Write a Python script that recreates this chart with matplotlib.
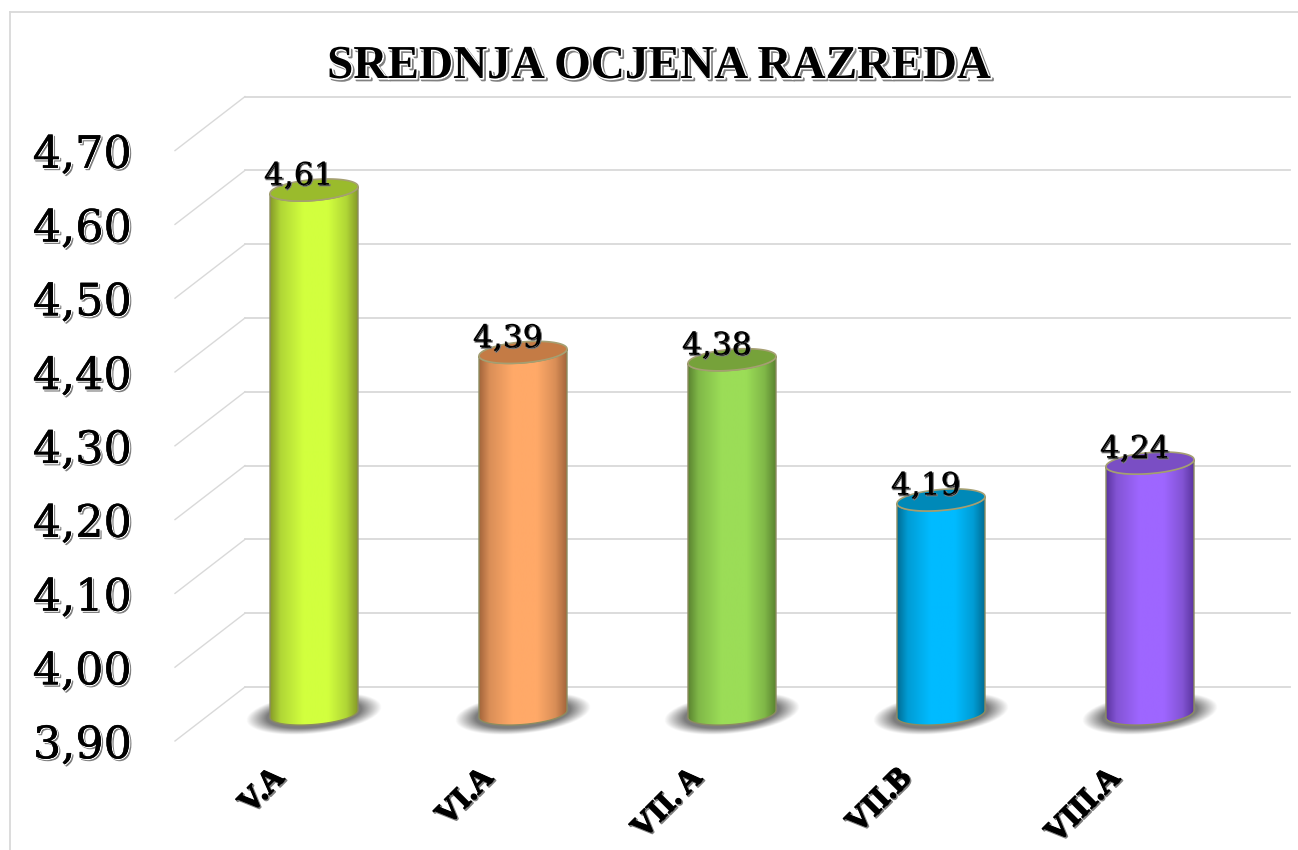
import numpy as np
import matplotlib
matplotlib.use("Agg")
import matplotlib.pyplot as plt
from matplotlib.lines import Line2D
from matplotlib.patches import PathPatch
from matplotlib.path import Path
from matplotlib.colors import LinearSegmentedColormap
from matplotlib.transforms import ScaledTranslation
import matplotlib.patheffects as pe

title = "SREDNJA OCJENA RAZREDA"
categories = ["V.A", "VI.A", "VII. A", "VII.B", "VIII.A"]
values = [4.61, 4.39, 4.38, 4.19, 4.24]
value_labels = ["4,61", "4,39", "4,38", "4,19", "4,24"]
yticks = [3.9, 4.0, 4.1, 4.2, 4.3, 4.4, 4.5, 4.6, 4.7]
ytick_labels = ["3,90", "4,00", "4,10", "4,20", "4,30", "4,40", "4,50", "4,60", "4,70"]
bright = ["#D2FF3E", "#FFA968", "#9BDD57", "#00BBFF", "#9E66FF"]
mid = ["#B0D636", "#D98E57", "#80B848", "#009CD4", "#8354D4"]
dark = ["#869A29", "#A3653B", "#5A8430", "#006D94", "#5B35A0"]
tops = ["#9ABB2C", "#C47B45", "#76A23A", "#0089B8", "#7A4EC4"]

W, H = 1298, 850
GRID = "#D9D9D9"
SERIF = "Liberation Serif"
NUM_SERIF = "DejaVu Serif"

fig = plt.figure(figsize=(W / 100, H / 100), dpi=100, facecolor="white")

PX_PER_CAT = 209.0
PX_PER_UNIT = 738.0
LEFT_PX, RIGHT_PX = 175, 1290
TOP_PX, BOT_PX = 97, 741
Y0_PX = 714
CAT0_PX = 314


def axes_rect(left, right, top, bottom):
    return [left / W, 1 - bottom / H, (right - left) / W, (bottom - top) / H]


# front plane: carries the value-axis tick labels
front = fig.add_axes(axes_rect(LEFT_PX, RIGHT_PX, 150.6, 741), zorder=1)
front.patch.set_visible(False)
front.set_ylim(3.9, 4.7)
front.set_yticks(yticks)
outline = [pe.Stroke(offset=(1.3, -1.3), linewidth=1.0, foreground="#808080"),
           pe.Stroke(offset=(0.5, -0.5), linewidth=1.0, foreground="white"),
           pe.Stroke(linewidth=0.3, foreground="black"), pe.Normal()]
front.set_yticklabels(ytick_labels, fontsize=32, family=NUM_SERIF, color="black", path_effects=outline)
front.tick_params(axis="y", length=0, pad=31)
front.set_xticks([])
for s in front.spines.values():
    s.set_visible(False)

# middle plane: bars
ax = fig.add_axes(axes_rect(LEFT_PX, RIGHT_PX, TOP_PX, BOT_PX), zorder=2)
ax.patch.set_visible(False)
xlim = ((LEFT_PX - CAT0_PX) / PX_PER_CAT, (RIGHT_PX - CAT0_PX) / PX_PER_CAT)
ylim = (3.9 + (Y0_PX - BOT_PX) / PX_PER_UNIT, 3.9 + (Y0_PX - TOP_PX) / PX_PER_UNIT)
for s in ax.spines.values():
    s.set_visible(False)
ax.set_yticks([])

# walls
depth = 27 / PX_PER_UNIT
x_back = (245 - CAT0_PX) / PX_PER_CAT
for v in yticks:
    ax.plot([x_back, xlim[1]], [v + depth, v + depth], color=GRID, lw=1.3, zorder=1, clip_on=False)
    ax.plot([xlim[0], x_back], [v - depth, v + depth], color=GRID, lw=1.0, zorder=1, clip_on=False)

a = 44 / PX_PER_CAT
b = 10.5 / PX_PER_UNIT
k = 3.5 / PX_PER_UNIT
t = np.linspace(0, 2 * np.pi, 181)


def ell(cx, cy, tt):
    return cx + a * np.cos(tt), cy + b * np.sin(tt) + k * np.cos(tt)


stops = [0.0, 0.12, 0.38, 0.52, 0.66, 0.87, 1.0]
for i, v in enumerate(values):
    # soft floor shadow
    gx = np.linspace(-1, 1, 200)
    gy = np.linspace(-1, 1, 80)
    X, Y = np.meshgrid(gx, gy)
    Yt = Y + 0.27 * X
    R = np.sqrt(X ** 2 + (Yt * 1.2) ** 2)
    alpha = np.clip((1.0 - R) / 0.3, 0, 1) * 0.68
    rgba = np.zeros((80, 200, 4))
    rgba[..., :3] = 0.25
    rgba[..., 3] = alpha
    sx = 68 / PX_PER_CAT
    sy = 24 / PX_PER_UNIT
    ax.imshow(rgba, extent=[i - sx, i + sx, 3.9 - sy, 3.9 + sy], origin="upper",
              aspect="auto", zorder=2, interpolation="bilinear")

    # body
    x_low, y_low = ell(i, 3.9, np.linspace(np.pi, 2 * np.pi, 60))
    x_up, y_up = ell(i, v, np.linspace(2 * np.pi, np.pi, 60))
    verts = np.column_stack([np.r_[x_low, x_up], np.r_[y_low, y_up]])
    body = PathPatch(Path(np.vstack([verts, verts[0]]), closed=True), facecolor="none",
                     edgecolor="#8C8C60", lw=1.0, zorder=4)
    ax.add_patch(body)
    cmap = LinearSegmentedColormap.from_list(
        f"c{i}", list(zip(stops, [dark[i], mid[i], bright[i], bright[i], bright[i], mid[i], dark[i]])))
    im = ax.imshow(np.linspace(0, 1, 256)[None, :], cmap=cmap, vmin=0, vmax=1,
                   extent=[i - a, i + a, 3.9 - 2 * b, v + 2 * b], aspect="auto", zorder=3)
    im.set_clip_path(body)

    # top cap
    tx, ty = ell(i, v, t)
    ax.add_patch(PathPatch(Path(np.column_stack([tx, ty]), closed=True), facecolor=tops[i],
                           edgecolor="#A59F72", lw=1.2, zorder=5))

    ax.annotate(value_labels[i], (i, v), xytext=(-11, 10), textcoords="offset points",
                ha="center", va="center", fontsize=22.5, family=NUM_SERIF, zorder=6,
                path_effects=[pe.Stroke(offset=(0.9, -0.9), linewidth=0.7, foreground="#808080"),
                              pe.Normal()])

ax.set_xlim(*xlim)
ax.set_ylim(*ylim)
ax.set_xticks(range(len(categories)))
ax.set_xticklabels(categories, rotation=45, ha="right", rotation_mode="anchor", fontsize=23,
                   family=SERIF, fontweight="bold",
                   path_effects=[pe.Stroke(offset=(1.0, -1.0), linewidth=1.2, foreground="#808080"),
                                 pe.Stroke(linewidth=0.8, foreground="black"), pe.Normal()])
ax.tick_params(axis="x", length=0, pad=16)
shift = ScaledTranslation(-44 / 100, 0, fig.dpi_scale_trans)
for lab in ax.get_xticklabels():
    lab.set_transform(lab.get_transform() + shift)

fig.text(659 / W, 1 - 67 / H, title, ha="center", va="center", fontsize=34, family=SERIF,
         fontweight="bold", color="black",
         path_effects=[pe.Stroke(offset=(1.6, -1.6), linewidth=1.6, foreground="#808080"),
                       pe.Stroke(offset=(0.5, -0.5), linewidth=1.4, foreground="white"),
                       pe.Normal()])

fig.add_artist(Line2D([10 / W, 10 / W], [0, 1 - 12 / H], color=GRID, lw=1.3))
fig.add_artist(Line2D([10 / W, 1], [1 - 12 / H, 1 - 12 / H], color=GRID, lw=1.3))

fig.savefig("out.png", dpi=100, facecolor="white")
